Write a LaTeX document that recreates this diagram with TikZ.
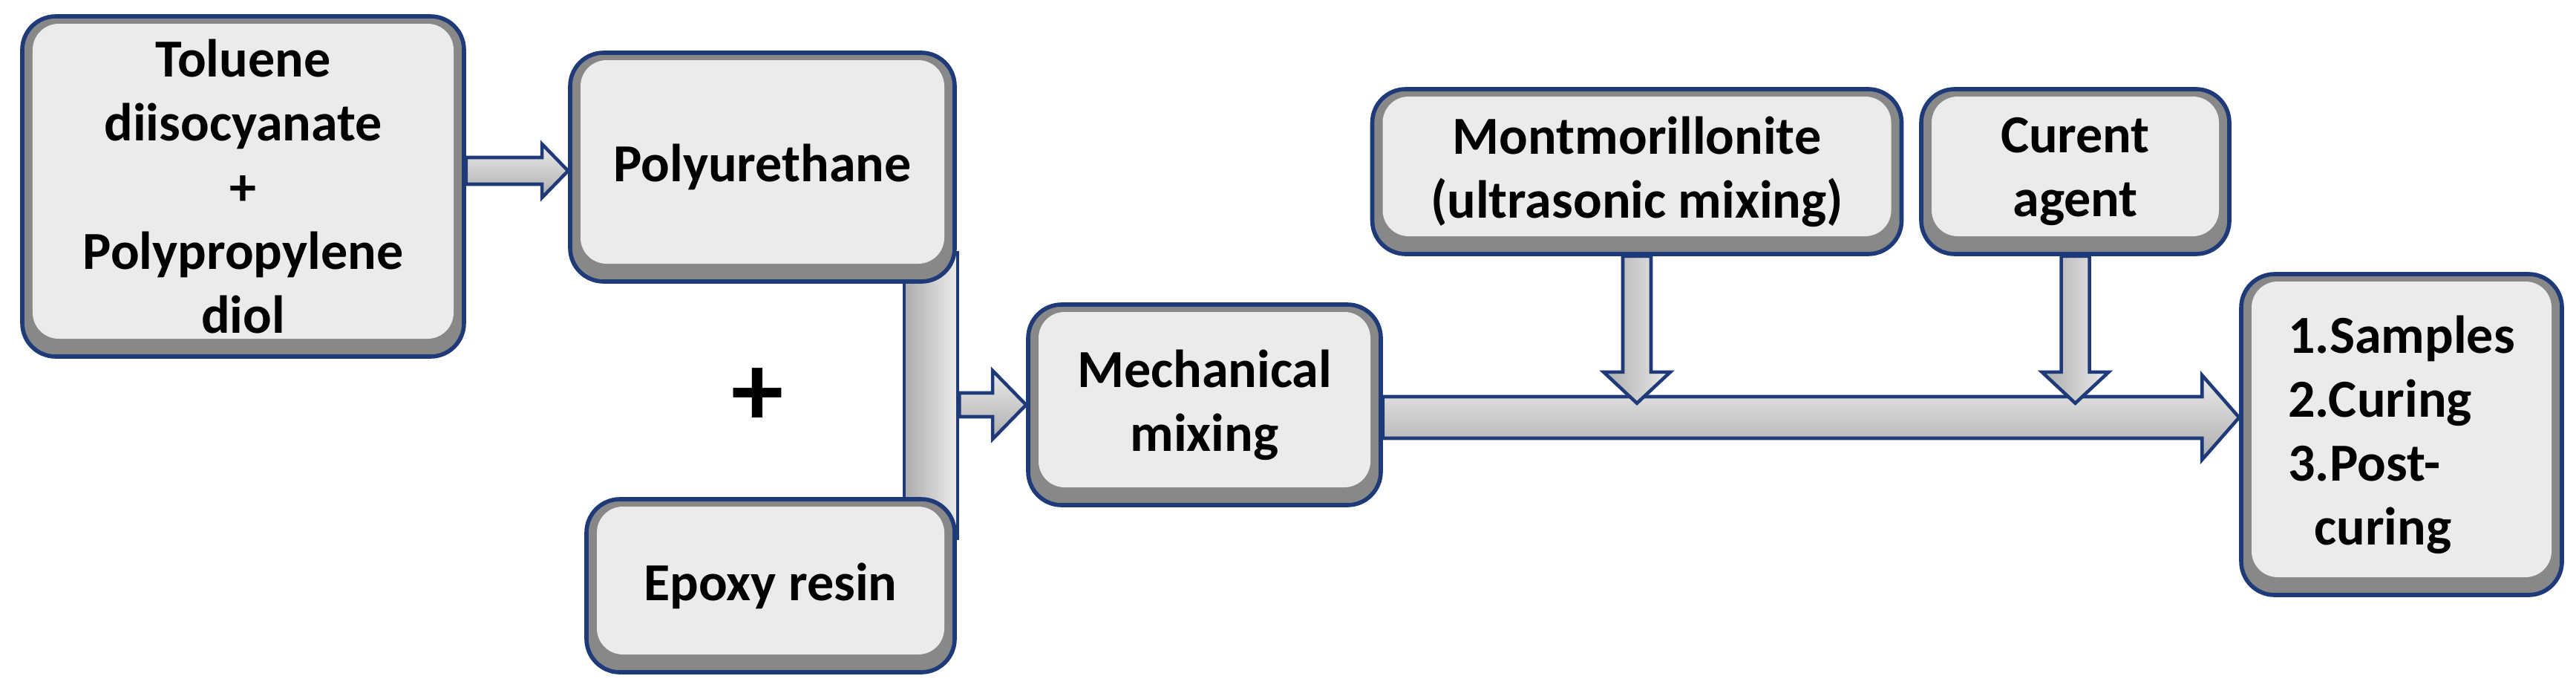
\documentclass[tikz,border=0pt]{standalone}
\usepackage{fontspec}
\setmainfont{Carlito}
\usetikzlibrary{calc}
\definecolor{navy}{HTML}{1F3A78}
\definecolor{boxin}{HTML}{EBEBEB}
\definecolor{bevel}{HTML}{888888}
\tikzset{
 box/.style={draw=navy, line width=1.6pt, fill=bevel, rounded corners=0.45cm,
   font=\bfseries\fontsize{20.5}{24.5}\selectfont, align=center, inner sep=0pt,
   path picture={\fill[boxin, rounded corners=0.35cm]
     ($(path picture bounding box.south west)+(0.14,0.24)$) rectangle
     ($(path picture bounding box.north east)-(0.14,0.1)$);}},
 bar/.style={draw=navy, line width=1.3pt, top color=gray!15, bottom color=gray!65},
 vbar/.style={draw=navy, line width=1.3pt, left color=gray!65, right color=gray!15},
}
\newcommand\harr[5]{%
 \path[bar] let \p1=(#1), \p2=(#2) in
  (\x1,\y1-#3) -- (\x2-#5,\y1-#3) -- (\x2-#5,\y1-#4) -- (\x2,\y1) -- (\x2-#5,\y1+#4)
  -- (\x2-#5,\y1+#3) -- (\x1,\y1+#3) -- cycle;}
\newcommand\varr[5]{%
 \path[vbar] let \p1=(#1), \p2=(#2) in
  (\x1-#3,\y1) -- (\x1-#3,\y2+#5) -- (\x1-#4,\y2+#5) -- (\x1,\y2) -- (\x1+#4,\y2+#5)
  -- (\x1+#3,\y2+#5) -- (\x1+#3,\y1) -- cycle;}
\begin{document}
\begin{tikzpicture}
\useasboundingbox (0,0) rectangle (34.7,9.4);
\node[vbar, minimum width=0.72cm, minimum height=3.85cm, inner sep=0pt] (br) at (12.54,4.075) {};
\node[box, minimum width=5.95cm, minimum height=4.58cm] (tol) at (3.275,6.89)
  {Toluene\\diisocyanate\\+\\Polypropylene\\diol};
\node[box, minimum width=5.18cm, minimum height=3.08cm] (pu) at (10.27,7.15) {Polyurethane};
\node[box, minimum width=4.96cm, minimum height=2.33cm] (ep) at (10.38,1.515) {Epoxy resin};
\node[font=\bfseries\fontsize{40}{40}\selectfont] (plus) at (10.2,4.05) {+};
\node[box, minimum width=4.75cm, minimum height=2.7cm] (mm) at (16.225,3.95) {Mechanical\\mixing};
\node[box, minimum width=7.13cm, minimum height=2.22cm] (mont) at (22.05,7.09) {Montmorillonite\\(ultrasonic mixing)};
\node[box, minimum width=4.15cm, minimum height=2.22cm] (cur) at (27.955,7.09) {Curent\\agent};
\node[box, minimum width=4.32cm, minimum height=4.32cm, align=left] (fin) at (32.35,3.55)
  {1.Samples\\2.Curing\\3.Post-\\\hspace*{0.35cm}curing};
\coordinate (j1) at ($(mont.south)+(0,-1.98)$);
\coordinate (j2) at ($(cur.south)+(0,-1.98)$);
\harr{tol.east |- 0,7.1}{pu.west |- 0,7.1}{0.18cm}{0.36cm}{0.35cm}
\harr{br.east |- mm.west}{mm.west}{0.16cm}{0.46cm}{0.45cm}
\harr{mm.east |- 0,3.78}{fin.west |- 0,3.78}{0.28cm}{0.57cm}{0.5cm}
\varr{mont.south}{j1}{0.19cm}{0.45cm}{0.42cm}
\varr{cur.south}{j2}{0.19cm}{0.45cm}{0.42cm}
\end{tikzpicture}
\end{document}
